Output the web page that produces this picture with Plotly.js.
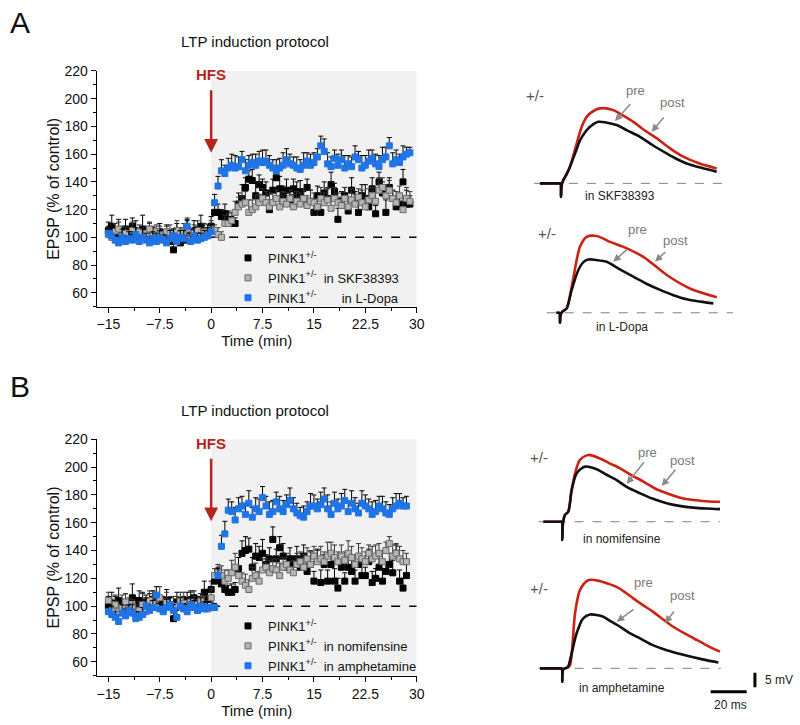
<!DOCTYPE html>
<html>
<head>
<meta charset="utf-8">
<script src="https://cdn.plot.ly/plotly-3.0.1.min.js"></script>
<style>html,body{margin:0;padding:0;background:#fff;}#chart{width:800px;height:725px;}</style>
</head>
<body>
<div id="chart"></div>
<script>
// ---------- time axis (min) ----------
const TIME_A = [-15,-14.5,-14,-13.5,-13,-12.5,-12,-11.5,-11,-10.5,-10,-9.5,-9,-8.5,-8,-7.5,-7,-6.5,-6,-5.5,-5,-4.5,-4,-3.5,-3,-2.5,-2,-1.5,-1,-0.5,
  0,0.5,1,1.5,2,2.5,3,3.5,4,4.5,5,5.5,6,6.5,7,7.5,8,8.5,9,9.5,10,10.5,11,11.5,12,12.5,13,13.5,14,14.5,
  15,15.5,16,16.5,17,17.5,18,18.5,19,19.5,20,20.5,21,21.5,22,22.5,23,23.5,24,24.5,25,25.5,26,26.5,27,27.5,28,28.5,29];
const TIME_B = TIME_A.slice(0, 88);

// ---------- Panel A ----------
const A_pink = [105,108,100,104,103,106,102,108,104,100,106,103,105,102,98,104,100,101,97,91,104,96,98,103,100,104,102,108,101,103,108,
  118,118,115,117,113,110,110,124,128,136,142,141,130,138,136,132,120,134,143,135,130,134,127,135,131,133,126,136,126,118,
  130,118,132,128,138,133,113,126,130,119,134,126,118,130,128,122,135,117,140,132,118,136,128,122,124,140,124,124];
const A_pink_err = [6,8,5,9,4,7,5,6,8,5,10,4,6,5,7,6,5,8,4,4,6,5,7,9,5,8,6,8,5,6,7,
  5,6,5,7,6,5,4,8,10,7,6,8,9,7,6,8,7,8,6,9,7,8,6,7,9,8,7,6,8,10,7,6,8,7,9,6,8,7,6,8,9,7,6,8,10,7,8,6,7,8,9,7,6,8,7,9,10,6];
const A_skf = [102,100,104,106,101,103,99,105,102,104,100,103,106,101,104,102,100,104,103,101,105,102,104,106,100,103,105,101,104,102,106,
  105,102,100,110,110,112,118,122,124,125,118,120,122,125,128,125,122,125,128,122,126,124,128,122,126,124,128,123,126,125,
  122,128,125,127,121,128,125,123,128,122,127,124,129,125,122,127,130,126,134,136,130,134,128,125,130,120,128,126];
const A_skf_err = [5,4,6,5,7,4,5,6,4,5,6,5,4,7,5,6,5,4,6,5,7,5,6,8,5,6,7,5,6,5,6,
  4,5,4,6,7,6,8,7,6,8,9,7,8,6,7,8,9,7,6,8,7,8,6,9,7,8,6,7,8,7,6,8,7,9,6,8,7,6,8,7,8,7,6,9,7,8,6,8,9,7,8,7,6,8,7,9,8,7];
const A_dopa = [103,101,98,96,100,97,99,98,102,97,100,98,96,99,97,100,98,96,99,101,97,100,99,108,97,101,98,99,100,101,104,
  125,137,148,146,150,152,150,151,156,148,152,154,152,155,154,155,152,150,148,150,152,156,153,152,150,149,152,155,152,154,
  158,166,162,153,151,157,152,156,150,153,151,158,156,150,152,155,157,153,151,156,158,166,153,156,154,158,160,161];
const A_dopa_err = [5,6,4,5,6,4,5,6,5,4,6,5,4,5,6,5,4,5,6,5,4,5,6,5,4,6,5,4,5,6,5,
  6,7,8,6,7,8,9,7,6,8,7,6,8,7,9,8,7,6,8,7,9,8,7,6,8,7,9,6,8,7,6,7,9,8,7,6,8,7,9,6,7,8,6,9,7,8,6,7,8,9,7,6,8,7,6,8,5,4];

// ---------- Panel B ----------
const B_pink = [100,98,102,104,99,101,97,106,100,104,98,103,101,105,100,99,102,104,100,91,103,101,99,104,102,106,100,103,110,105,112,
  118,120,116,112,110,110,112,127,138,140,141,128,136,135,138,130,134,148,134,142,136,128,134,130,134,128,136,125,130,118,
  133,117,130,118,130,118,113,128,118,128,125,118,130,122,122,132,117,120,128,118,125,130,124,138,118,113,122];
const B_pink_err = [7,12,5,9,6,8,5,10,6,7,12,5,8,6,9,7,5,8,6,4,7,5,8,6,9,5,7,6,8,7,6,
  6,8,7,6,5,6,5,8,9,10,8,7,9,8,10,7,8,9,7,8,9,7,8,6,9,7,8,6,9,7,8,9,7,8,6,9,7,8,6,7,9,8,7,8,6,9,8,7,8,9,7,8,9,6,8,7,9];
const B_nomi = [104,97,101,96,99,103,98,100,94,97,101,96,104,102,99,106,97,103,101,98,100,104,102,99,103,101,97,104,100,98,106,
  122,124,122,118,120,124,128,122,118,115,112,120,122,118,126,128,124,127,126,122,128,130,126,124,130,132,128,134,130,136,
  132,134,132,136,138,135,132,136,133,138,135,130,136,134,132,138,134,136,138,132,140,145,136,138,134,132,132];
const B_nomi_err = [6,8,7,5,9,6,8,5,7,6,8,5,7,9,6,8,5,7,6,9,7,6,8,5,7,6,8,5,7,6,7,
  5,6,7,8,6,9,10,7,6,8,7,8,9,7,8,6,9,7,8,9,7,8,6,9,8,7,9,8,10,7,8,9,7,10,8,9,7,8,6,9,8,7,9,8,7,6,9,8,7,8,6,5,8,7,9,8,6];
const B_amph = [96,94,92,89,95,93,97,95,91,92,94,100,97,99,108,98,96,99,101,97,92,100,98,96,101,99,97,100,98,99,99,
  99,122,143,152,169,168,162,170,172,166,174,164,170,168,178,172,166,168,175,170,168,173,176,170,167,165,164,168,172,172,
  170,173,177,170,166,174,170,172,176,168,174,170,167,174,172,170,166,168,172,170,167,166,170,172,174,172,172];
const B_amph_err = [5,6,4,5,6,5,4,6,5,4,5,6,4,5,6,5,4,6,5,4,5,6,4,5,6,5,4,6,5,4,4,
  3,5,8,9,8,7,9,8,7,8,9,7,8,9,8,7,9,8,7,9,8,7,9,8,7,6,8,7,9,8,7,9,8,10,9,8,7,9,8,7,9,8,7,9,8,7,9,8,7,9,8,7,8,9,7,6,7];

// ---------- example EPSP traces (ms, mV) ----------
const A1_pre_t  = [-11.7,-8,-1,-0.3,0,0.4,1.2,3,5,8,10.7,13.5,16.1,20.7,25,30.9,37,43.9,51,58.7,64,69.8,78,86.5];
const A1_pre_v  = [0,0,0,0,-4.6,-0.5,1,3,5.7,10.5,14.8,17.5,19.3,21.0,20.8,19.9,18.0,15.9,13.0,10.2,8.4,6.8,5.3,4.0];
const A1_post_t = [-11.7,-8,-1,-0.3,0,0.4,1.2,3,5,8,11.5,14,16.1,21.7,29.1,34,40.2,46,53.2,60,67.9,77,86.5];
const A1_post_v = [0,0,0,0,-4.6,-0.5,1,3,5.7,12,19.3,22.5,23.9,25.6,25.0,23.3,21.0,18.3,15.4,12.2,9.1,6.8,5.1];

const A2_pre_t  = [-2,-1,-0.3,0,0.4,1.5,3.7,6.5,10.2,13,15.7,20,25.9,33,40.7,48,55.6,63,70.4,78,85.2];
const A2_pre_v  = [0,0,0,-3.4,-0.5,0.5,1.5,7.8,14.6,17.3,18.2,18.0,17.4,14.9,12.3,9.9,7.8,6.0,4.6,3.8,3.2];
const A2_post_t = [-2,-1,-0.3,0,0.4,1.5,3.7,6.5,11.1,14.8,20.4,27.8,35.2,46.3,59.3,72.2,87.1];
const A2_post_v = [0,0,0,-3.4,-0.5,0.5,1.5,8.9,22.5,25.9,26.2,24.2,22.5,19.1,12.9,8.3,5.3];

const B1_pre_t  = [-10.5,-5,-1,-0.3,0,0.4,1.5,3.3,5.2,8.0,12.6,19.1,24,30.2,36,43.2,50,58.0,65,72.8,80,87.6];
const B1_pre_v  = [0,0,0,0,-6.2,-0.5,2.3,3.4,10.8,16.5,18.8,17.9,16.2,14.2,11.8,9.7,7.9,6.3,5.4,4.8,4.5,4.3];
const B1_post_t = [-10.5,-5,-1,-0.3,0,0.4,1.5,3.3,5.2,7.1,9.8,14.4,20.9,26,32.1,38,45.0,51,58.0,65,72.8,80,87.6];
const B1_post_v = [0,0,0,0,-6.2,-0.5,2.3,3.4,10.8,16.5,21.1,22.8,21.6,20.0,18.2,16.0,13.7,11.5,9.7,8.3,7.4,7.0,6.8];

const B2_pre_t  = [-12.4,-5,-1,-0.3,0,0.4,1.5,3,5.2,7.9,11.6,15.4,22.8,27,32.1,37,43.2,50,58.0,65,72.8,80,86.7];
const B2_pre_v  = [0,0,0,0,-4.6,-0.5,0,0.3,5.1,11.9,17.1,18.4,17.6,16.0,14.2,12.2,10.2,8.0,6.2,5.0,3.8,2.8,2.0];
const B2_post_t = [-12.4,-5,-1,-0.3,0,0.4,1.5,3,4.3,7.1,9.8,14.4,20.9,25,30.2,35,39.4,45,50.5,56,61.6,68,74.6,81,87.6];
const B2_post_v = [0,0,0,0,-4.6,-0.5,0,0.3,1.1,18.8,26.7,30.1,29.8,29.0,27.8,25.9,23.9,21.5,19.3,16.7,14.2,11.9,9.7,7.6,5.7];

const LEGEND_A = ['PINK1<sup>+/-</sup>', 'PINK1<sup>+/-</sup>  in SKF38393', 'PINK1<sup>+/-</sup>\u00a0\u00a0\u00a0\u00a0\u00a0\u00a0 in L-Dopa'];
const LEGEND_B = ['PINK1<sup>+/-</sup>', 'PINK1<sup>+/-</sup>  in nomifensine', 'PINK1<sup>+/-</sup>  in amphetamine'];

// ---------- styles ----------
const BLACK = '#000000', GRAY = '#b5b5b5', BLUE = '#1f74e6', RED = '#cc2212';
const FONT = 'Liberation Sans, Arial, Helvetica, sans-serif';
const W = 800, H = 725;
const px = (x) => x / W;
const py = (y) => 1 - y / H;

function series(x, y, err, name, fill, edge, errColor, xa, ya, leg) {
  return {
    type: 'scatter', mode: 'markers', x: x, y: y, name: name,
    xaxis: xa, yaxis: ya, legend: leg,
    marker: {symbol: 'square', size: 6, color: fill, line: {color: edge, width: 1}},
    error_y: {type: 'data', symmetric: false, array: err, arrayminus: err.map(() => 0),
              color: errColor, thickness: 1, width: 2.5},
    cliponaxis: false
  };
}
function wave(t, v, color, xa, ya) {
  return {type: 'scatter', mode: 'lines', x: t, y: v, xaxis: xa, yaxis: ya, showlegend: false,
          hoverinfo: 'skip', line: {color: color, width: 2.6, shape: 'spline', smoothing: 0.8}};
}

const data = [
  series(TIME_A, A_pink, A_pink_err, LEGEND_A[0], BLACK, BLACK, '#000', 'x', 'y', 'legend'),
  series(TIME_A, A_skf, A_skf_err, LEGEND_A[1], GRAY, '#6a6a6a', '#333', 'x', 'y', 'legend'),
  series(TIME_A, A_dopa, A_dopa_err, LEGEND_A[2], BLUE, BLUE, '#000', 'x', 'y', 'legend'),
  series(TIME_B, B_pink, B_pink_err, LEGEND_B[0], BLACK, BLACK, '#000', 'x2', 'y2', 'legend2'),
  series(TIME_B, B_nomi, B_nomi_err, LEGEND_B[1], GRAY, '#6a6a6a', '#333', 'x2', 'y2', 'legend2'),
  series(TIME_B, B_amph, B_amph_err, LEGEND_B[2], BLUE, BLUE, '#000', 'x2', 'y2', 'legend2'),
  wave(A1_post_t, A1_post_v, RED, 'x3', 'y3'), wave(A1_pre_t, A1_pre_v, '#111', 'x3', 'y3'),
  wave(A2_post_t, A2_post_v, RED, 'x4', 'y4'), wave(A2_pre_t, A2_pre_v, '#111', 'x4', 'y4'),
  wave(B1_post_t, B1_post_v, RED, 'x5', 'y5'), wave(B1_pre_t, B1_pre_v, '#111', 'x5', 'y5'),
  wave(B2_post_t, B2_post_v, RED, 'x6', 'y6'), wave(B2_pre_t, B2_pre_v, '#111', 'x6', 'y6')
];

function mainX(anchor) {
  return {domain: [0.1209, 0.5209], range: [-16.7, 30], anchor: anchor,
    tickmode: 'linear', tick0: -15, dtick: 7.5, ticks: 'outside', ticklen: 5, tickwidth: 1, tickcolor: '#000',
    minor: {ticks: 'outside', ticklen: 3, tickwidth: 1, tickcolor: '#000', dtick: 3.75, tick0: -15},
    showline: true, linecolor: '#000', linewidth: 1, showgrid: false, zeroline: false,
    tickfont: {size: 14, color: '#111'},
    title: {text: 'Time (min)', font: {size: 15, color: '#111'}, standoff: 0}};
}
function mainY(dom, anchor) {
  return {domain: dom, range: [50, 220], anchor: anchor,
    tickmode: 'linear', tick0: 60, dtick: 20, ticks: 'outside', ticklen: 5, tickwidth: 1, tickcolor: '#000',
    minor: {ticks: 'outside', ticklen: 3, tickwidth: 1, tickcolor: '#000', dtick: 10, tick0: 50},
    showline: true, linecolor: '#000', linewidth: 1, showgrid: false, zeroline: false,
    tickfont: {size: 14, color: '#111'},
    title: {text: 'EPSP (% of control)', font: {size: 16, color: '#111'}, standoff: 0}};
}
function hiddenX(dom, anchor) { return {domain: dom, range: [-15, 110], anchor: anchor, visible: false, fixedrange: true}; }
function hiddenY(dom, anchor) { return {domain: dom, range: [-12, 32], anchor: anchor, visible: false, fixedrange: true}; }

const shapes = [];
[['x', 'y'], ['x2', 'y2']].forEach(([xa, ya]) => {
  shapes.push({type: 'rect', xref: xa, yref: ya, x0: 0, x1: 30, y0: 50, y1: 220,
               fillcolor: '#f1f1f1', line: {width: 0}, layer: 'below'});
  shapes.push({type: 'line', xref: xa, yref: ya, x0: 0, x1: 30, y0: 100, y1: 100,
               line: {color: '#000', width: 1.5, dash: 'dash'}, layer: 'below'});
});
// trace baselines (0 mV)
[['x3', 'y3', -15.6, 89.4], ['x4', 'y4', -7.4, 96.1], ['x5', 'y5', -13.2, 87.6], ['x6', 'y6', -13.2, 88]].forEach(([xa, ya, a, b]) => {
  shapes.push({type: 'line', xref: xa, yref: ya, x0: a, x1: b, y0: 0, y1: 0,
               line: {color: '#808080', width: 1, dash: 'dash'}, layer: 'below'});
});
// scale bars: 5 mV, 20 ms
shapes.push({type: 'line', xref: 'x6', yref: 'y6', x0: 107, x1: 107, y0: -1.5, y1: -6.5, line: {color: '#000', width: 3}});
shapes.push({type: 'line', xref: 'x6', yref: 'y6', x0: 82.4, x1: 102.4, y0: -8, y1: -8, line: {color: '#000', width: 3}});

const annotations = [];
function txt(text, x, y, size, color, extra) {
  annotations.push(Object.assign({text: text, xref: 'paper', yref: 'paper', x: px(x), y: py(y),
    showarrow: false, xanchor: 'center', yanchor: 'middle', font: {size: size, color: color, family: FONT}}, extra || {}));
}
function arr(x, y, ax, ay, color, width) {
  annotations.push({text: '', xref: 'paper', yref: 'paper', x: px(x), y: py(y), ax: ax, ay: ay,
    showarrow: true, arrowhead: 2, arrowsize: 1, arrowwidth: width, arrowcolor: color});
}
txt('A', 20, 22, 30, '#111');
txt('B', 20, 386, 30, '#111');
txt('LTP induction protocol', 255, 42, 15, '#111');
txt('LTP induction protocol', 255, 410, 15, '#111');
txt('<b>HFS</b>', 211, 75, 15, '#b3261e');
txt('<b>HFS</b>', 211, 443, 15, '#b3261e');
annotations.push({text: '', xref: 'x', yref: 'y', x: 0, y: 161, ax: 0, ay: -64, showarrow: true,
  arrowhead: 2, arrowsize: 1.1, arrowwidth: 2.5, arrowcolor: '#b3261e'});
annotations.push({text: '', xref: 'x2', yref: 'y2', x: 0, y: 161, ax: 0, ay: -64, showarrow: true,
  arrowhead: 2, arrowsize: 1.1, arrowwidth: 2.5, arrowcolor: '#b3261e'});

// trace panel labels
const GTXT = '#7a7a7a', GARR = '#8a8a8a';
txt('+/-', 535, 96, 15, '#555');
txt('pre', 635, 91, 13, GTXT); txt('post', 672, 103, 13, GTXT);
arr(615, 121, 16.7, -18.3, GARR, 1.5); arr(651.7, 131.7, 13.3, -15.7, GARR, 1.5);
txt('in SKF38393', 620, 196, 12, '#222');

txt('+/-', 547, 233, 15, '#555');
txt('pre', 637, 230, 13, GTXT); txt('post', 675, 240, 13, GTXT);
arr(613.3, 261.7, 15, -13.4, GARR, 1.5); arr(655, 261.7, 11.7, -11, GARR, 1.5);
txt('in L-Dopa', 622, 327, 12, '#222');

txt('+/-', 539, 458, 15, '#555');
txt('pre', 647, 452, 13, GTXT); txt('post', 682, 460, 13, GTXT);
arr(626.7, 484, 18.3, -23.3, GARR, 1.5); arr(661.7, 486, 15, -17.7, GARR, 1.5);
txt('in nomifensine', 622, 539, 12, '#222');

txt('+/-', 539, 588, 15, '#555');
txt('pre', 643, 582, 13, GTXT); txt('post', 682, 595, 13, GTXT);
arr(616.7, 621.7, 18.3, -13.4, GARR, 1.5); arr(665, 623.3, 10, -13.3, GARR, 1.5);
txt('in amphetamine', 622, 688, 12, '#222');

txt('5 mV', 763, 680, 12, '#222', {xanchor: 'left'});
txt('20 ms', 730, 705, 12, '#222');

const legendStyle = {xanchor: 'left', yanchor: 'top', bgcolor: 'rgba(0,0,0,0)', borderwidth: 0,
  font: {size: 13, color: '#111', family: FONT}, itemwidth: 30, tracegroupgap: 0, traceorder: 'normal'};

const layout = {
  width: W, height: H, margin: {l: 0, r: 0, t: 0, b: 0},
  paper_bgcolor: '#fff', plot_bgcolor: 'rgba(0,0,0,0)',
  font: {family: FONT, color: '#111'},
  showlegend: true,
  legend: Object.assign({x: px(228), y: py(243)}, legendStyle),
  legend2: Object.assign({x: px(228), y: py(611)}, legendStyle),
  xaxis: mainX('y'), yaxis: mainY([0.5770, 0.9021], 'x'),
  xaxis2: mainX('y2'), yaxis2: mainY([0.0680, 0.3941], 'x2'),
  xaxis3: hiddenX([0.6675, 0.94875], 'y3'), yaxis3: hiddenY([0.6986, 0.8764], 'x3'),
  xaxis4: hiddenX([0.66625, 0.9475], 'y4'), yaxis4: hiddenY([0.5201, 0.6979], 'x4'),
  xaxis5: hiddenX([0.6691, 0.9504], 'y5'), yaxis5: hiddenY([0.2319, 0.4097], 'x5'),
  xaxis6: hiddenX([0.6691, 0.9504], 'y6'), yaxis6: hiddenY([0.0297, 0.2074], 'x6'),
  shapes: shapes, annotations: annotations
};

Plotly.newPlot('chart', data, layout, {displayModeBar: false, staticPlot: true});
</script>
</body>
</html>
